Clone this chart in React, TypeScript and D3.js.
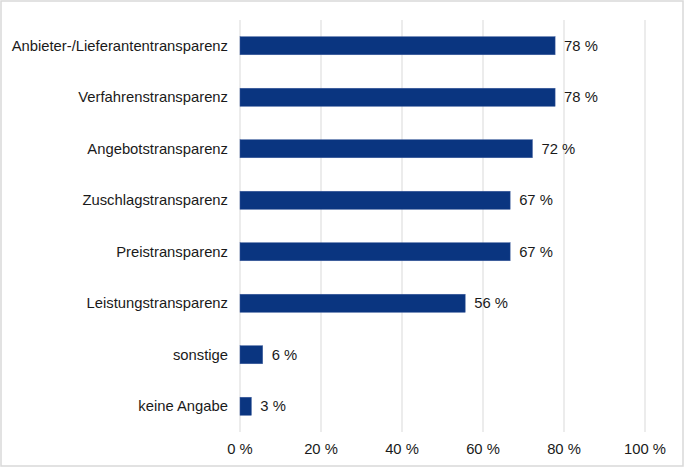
import React from "react";
import * as d3 from "d3";

const categories = [
  "Anbieter-/Lieferantentransparenz",
  "Verfahrenstransparenz",
  "Angebotstransparenz",
  "Zuschlagstransparenz",
  "Preistransparenz",
  "Leistungstransparenz",
  "sonstige",
  "keine Angabe",
];
const values = [77.8, 77.8, 72.2, 66.7, 66.7, 55.6, 5.6, 2.8];
const ticks = [0, 20, 40, 60, 80, 100];

const W = 685;
const H = 468;

export default function App() {
  const x = d3.scaleLinear().domain([0, 100]).range([240, 645]);
  const y = d3.scaleBand().domain(categories).range([20, 432]).paddingInner(0.65).paddingOuter(0.325);
  const font = "Liberation Sans, Arial, sans-serif";
  const fs = 14.8;
  return (
    <svg
      width={W}
      height={H}
      style={{ position: "absolute", left: 0, top: 0 }}
      fontFamily={font}
    >
      <rect x={1} y={1} width={W - 3} height={H - 3} fill="#fff" stroke="#d9d9d9" strokeWidth={1.5} />
      {ticks.map((t) => (
        <line key={t} x1={x(t)} x2={x(t)} y1={20} y2={432} stroke="#d9d9d9" strokeWidth={1} />
      ))}
      {categories.map((c, i) => (
        <g key={c}>
          <rect
            x={x(0)}
            y={y(c)!}
            width={x(values[i]) - x(0)}
            height={y.bandwidth()}
            fill="#0a3580"
            stroke="#3a5a9a"
            strokeWidth={0.5}
          />
          <text
            x={228}
            y={y(c)! + y.bandwidth() / 2}
            textAnchor="end"
            dominantBaseline="central"
            fontSize={fs}
            fill="#1a1a1a"
          >
            {c}
          </text>
          <text
            x={x(values[i]) + 9}
            y={y(c)! + y.bandwidth() / 2}
            dominantBaseline="central"
            fontSize={fs}
            fill="#1a1a1a"
          >
            {Math.round(values[i])} %
          </text>
        </g>
      ))}
      {ticks.map((t) => (
        <text key={"l" + t} x={x(t)} y={449} textAnchor="middle" dominantBaseline="central" fontSize={fs} fill="#1a1a1a">
          {t} %
        </text>
      ))}
    </svg>
  );
}
